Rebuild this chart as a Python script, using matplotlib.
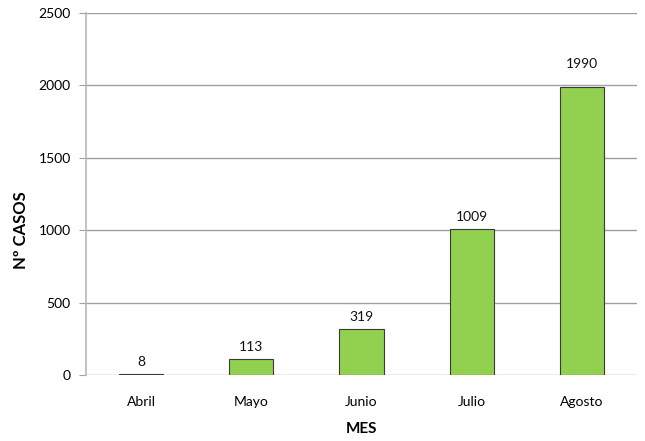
import matplotlib.pyplot as plt
import numpy as np

plt.rcParams['font.family'] = ['Lato', 'DejaVu Sans']

meses = ['Abril', 'Mayo', 'Junio', 'Julio', 'Agosto']
casos = [8, 113, 319, 1009, 1990]
yticks = [0, 500, 1000, 1500, 2000, 2500]
# separacion (pt) entre barra y etiqueta, como en el original
label_pad = [4, 4, 4, 4, 12]

fig = plt.figure(figsize=(6.45, 4.41), dpi=100)
ax = fig.add_axes([0.1333, 0.1497, 0.8543, 0.8208])

x = np.arange(len(meses))
bars = ax.bar(x, casos, width=0.4, color='#92D050', edgecolor='#3a3a3a', linewidth=0.8, zorder=3)

# etiquetas encima de cada barra
for xi, v, p in zip(x, casos, label_pad):
    ax.annotate(str(v), (xi, v), xytext=(0, p), textcoords='offset points',
                ha='center', va='bottom', fontsize=10, color='#111111')

ax.set_xlim(-0.5, len(meses) - 0.5)
ax.set_ylim(0, 2500)
ax.set_yticks(yticks)
ax.set_xticks(x)
ax.set_xticklabels(meses)
ax.yaxis.grid(True, color='#a0a0a0', linewidth=1, zorder=0)
ax.set_axisbelow(True)

for s in ['top', 'right', 'bottom']:
    ax.spines[s].set_visible(False)
ax.spines['left'].set_color('#b8b8b8')
ax.spines['left'].set_linewidth(1.2)
ax.tick_params(axis='y', length=5, color='#a0a0a0', labelsize=10, pad=6)
ax.tick_params(axis='x', length=0, labelsize=10, pad=15)

ax.set_xlabel('MES', fontsize=11, fontweight='bold', labelpad=10)
ax.set_ylabel('Nº CASOS', fontsize=12, fontweight='bold')
ax.yaxis.set_label_coords(-0.104, 0.40)

fig.savefig('out.png', dpi=100)
